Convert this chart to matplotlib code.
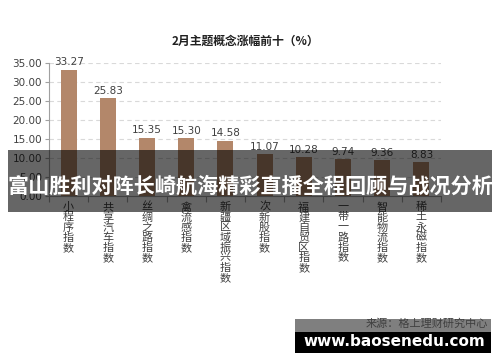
import numpy as np
import matplotlib
matplotlib.use('Agg')
import matplotlib.pyplot as plt
from matplotlib.patches import Rectangle

plt.rcParams['font.family'] = ['Noto Sans CJK SC', 'DejaVu Sans']

title = '2月主题概念涨幅前十（%）'
categories = ['小程序指数', '共享汽车指数', '丝绸之路指数', '禽流感指数',
              '新疆区域振兴指数', '次新股指数', '福建自贸区指数', '一带一路指数',
              '智能物流指数', '稀土永磁指数']
values = [33.27, 25.83, 15.35, 15.30, 14.58, 11.07, 10.28, 9.74, 9.36, 8.83]
yticks = [0, 5, 10, 15, 20, 25, 30, 35]
banner = '富山胜利对阵长崎航海精彩直播全程回顾与战况分析'
source = '来源：格上理财研究中心'
site = 'www.baosenedu.com'

fig = plt.figure(figsize=(5, 3.62), dpi=100)
ax = fig.add_axes([0.098, 0.4586, 0.784, 0.3674])

x = np.arange(len(values))
ax.bar(x, values, width=0.41, color='#b3876a', zorder=3)
for xi, v in zip(x, values):
    ax.text(xi, v + 0.6, '{:.2f}'.format(v), ha='center', va='bottom',
            fontsize=7.5, color='#404040', family='DejaVu Sans')

ax.set_xlim(-0.5, len(values) - 0.5)
ax.set_ylim(0, 35)
ax.set_yticks(yticks)
ax.set_yticklabels(['{:.2f}'.format(t) for t in yticks], fontsize=7.5,
                   color='#404040', family='DejaVu Sans')
ax.yaxis.grid(True, linestyle=(0, (4, 3)), color='#d9d9d9', linewidth=0.8, zorder=0)
ax.tick_params(axis='y', length=3, color='#a0a0a0', pad=2)

ax.set_xticks(np.arange(len(values) + 1) - 0.5)
ax.set_xticklabels([])
ax.tick_params(axis='x', length=4, color='#a0a0a0', direction='out')
for xi, name in zip(x, categories):
    ax.text(xi, -1.6, '\n'.join(name), ha='center', va='top', fontsize=8,
            color='#404040', linespacing=1.0)

for s in ['top', 'right']:
    ax.spines[s].set_visible(False)
ax.spines['left'].set_color('#a0a0a0')
ax.spines['bottom'].set_color('#a0a0a0')

fig.text(0.49, 0.887, title, ha='center', va='center', fontsize=8.5,
         fontweight='bold', color='#202020')

# overlay banner
fig.patches.append(Rectangle((0.016, 1 - 212 / 362), 0.968, 62 / 362,
                             transform=fig.transFigure, facecolor='black',
                             edgecolor='none', alpha=0.6, zorder=10))
fig.text(0.5, 1 - 186 / 362, banner, ha='center', va='center', fontsize=15.2,
         fontweight='bold', color='white', zorder=11)

# bottom site banner
fig.patches.append(Rectangle((0.59, 1 - 332 / 362), 0.392, 13 / 362,
                             transform=fig.transFigure, facecolor='#7f7f7f',
                             edgecolor='none', zorder=10))
fig.patches.append(Rectangle((0.59, 1 - 353 / 362), 0.392, 21 / 362,
                             transform=fig.transFigure, facecolor='black',
                             edgecolor='none', zorder=10))
fig.text(0.976, 1 - 324 / 362, source, ha='right', va='center', fontsize=8,
         color='#404040', zorder=11)
fig.text(0.788, 1 - 342 / 362, site, ha='center', va='center', fontsize=11,
         fontweight='bold', color='white', family='DejaVu Sans', zorder=11)

fig.savefig('out.png', dpi=100)
